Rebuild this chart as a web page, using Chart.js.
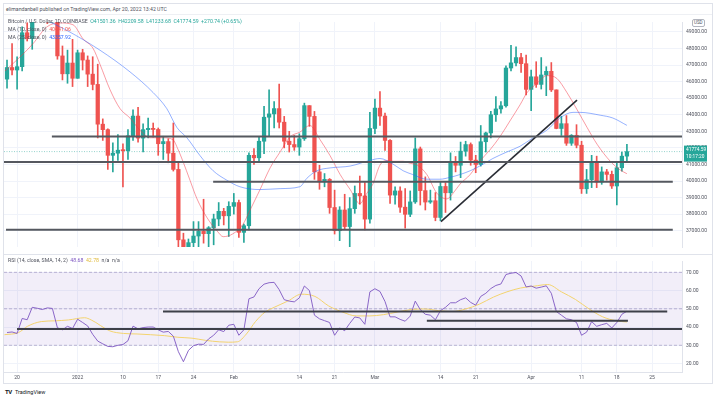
<!DOCTYPE html>
<html>
<head>
<meta charset="utf-8">
<script src="https://cdn.jsdelivr.net/npm/chart.js@4.4.0/dist/chart.umd.min.js"></script>
<style>
  body { margin: 0; width: 716px; height: 399px; background: #fff; position: relative; overflow: hidden;
         font-family: Roboto, "DejaVu Sans", sans-serif; color: #50535e; }
  canvas { position: absolute; }
  .t { position: absolute; white-space: nowrap; font-size: 5.2px; line-height: 6px; }
  .ln { position: absolute; background: #e0e3eb; }
</style>
</head>
<body>
<div style="position:absolute;left:3px;top:3px;width:708px;height:379px;border:1px solid #dfe2ea;"></div>
<canvas id="main" width="708" height="239" style="left:4px;top:15px"></canvas>
<canvas id="rsi" width="708" height="129" style="left:4px;top:254px"></canvas>
<div class="ln" style="left:4px;top:14px;width:708px;height:1px;background:#eef0f4"></div>
<div class="ln" style="left:4px;top:254px;width:708px;height:1px;"></div>

<div class="t" style="left:6px;top:6px;">elimandanbell published on TradingView.com, Apr 20, 2022 13:42 UTC</div>
<div class="t" style="left:8px;top:18px;">Bitcoin / U.S. Dollar, 1D, COINBASE&nbsp;
  <span style="color:#26a69a">O41501.36&nbsp; H42209.58&nbsp; L41233.68&nbsp; C41774.59&nbsp; +270.74 (+0.65%)</span></div>
<div class="t" style="left:8px;top:26px;">MA (10, close, 0)&nbsp; <span style="color:#ef5350">40441.06</span></div>
<div class="t" style="left:8px;top:34px;">MA (25, close, 0)&nbsp; <span style="color:#2962ff">43357.92</span></div>
<div class="t" style="left:692px;top:19px;padding:0 1px;border:0.6px solid #b2b5be;border-radius:2px;background:#fff;font-size:4.5px;line-height:5.5px;">USD</div>
<div class="t" style="left:8px;top:257px;">RSI (14, close, SMA, 14, 2)&nbsp;
  <span style="color:#7e57c2">48.68</span>&nbsp; <span style="color:#e0b93a">42.78</span>&nbsp; n/a&nbsp; n/a</div>
<div class="t" style="left:5px;top:389px;font-size:6px;font-weight:bold;color:#131722;letter-spacing:-0.5px">TV</div>
<div class="t" style="left:15px;top:389px;font-size:5.5px;color:#131722">TradingView</div>

<script>
// daily candles, Dec 18 2021 .. Apr 20 2022 (index 0 = Dec 18)
const opens = [46150, 46850, 46700, 46900, 48950, 48600, 50800, 50400, 50800, 50700, 50700, 47550, 46470, 47120,
  46200, 47740, 47300, 46450, 45830, 43430, 43100, 41550, 41680, 41860, 41830, 42730, 43920, 42590, 43100, 43180,
  43110, 42250, 42380, 41680, 40700, 36450, 35050, 36280, 36680, 36960, 36820, 37180, 37710, 38170, 37900,
  38470, 38700, 36900, 37300, 41550, 41400, 42400, 43850, 44050, 44370, 43550, 42400, 42200, 42050, 42550, 44550,
  43900, 40550, 39950, 40100, 38400, 37000, 38250, 37250, 38330, 39250, 39100, 37700,
  43170, 44400, 43920, 42450, 39150, 39400, 38420, 37990, 38740, 41940, 39420, 38730, 38810, 37800, 39670, 39290,
  41140, 40950, 41800, 42200, 41260, 41000, 42370, 42900, 44000, 44350, 44540, 46820, 47130, 47450, 47080,
  45530, 46290, 45830, 46400, 46620, 45500, 43170, 43460, 42280, 42760, 42160, 39530, 40080, 41150, 39940, 40550,
  40400, 39700, 40800, 41501.36];
const highs = [47300, 48300, 47500, 49300, 49550, 51400, 51800, 51150, 51250, 52000, 50700, 48150, 47900, 48550,
  47900, 47950, 47550, 47500, 47050, 43750, 43150, 42300, 42800, 42250, 43100, 44300, 44450, 43450, 43800, 43500,
  43200, 42700, 42550, 43500, 41100, 36850, 36500, 37550, 37550, 38900, 37250, 38000, 38700, 38350, 38750,
  39250, 38850, 37400, 41700, 41950, 42650, 44500, 45500, 44800, 45850, 43900, 43000, 42750, 42850, 44700, 44550,
  44200, 40950, 40450, 40150, 39450, 38450, 39200, 39000, 39700, 40300, 39900, 44150,
  44950, 45400, 44100, 42500, 39650, 39650, 39550, 39400, 42600, 42050, 40250, 39450, 39300, 39950, 39900, 41700,
  41480, 42350, 42400, 42300, 41550, 43350, 42950, 44200, 45100, 44800, 46950, 48190, 48100, 47700, 47600,
  46700, 47200, 47450, 46900, 47150, 45500, 43900, 43950, 42800, 43400, 42400, 40700, 41550, 41500, 40850,
  40700, 40600, 41100, 41750, 42209.58];
const lows = [45600, 46400, 45550, 46650, 48450, 47950, 50400, 50200, 49500, 50450, 47350, 46100, 45900, 45700,
  46200, 46700, 45700, 45500, 42600, 42450, 40700, 40550, 41250, 39650, 41300, 42450, 42350, 41750, 42600, 42650,
  41550, 41300, 41100, 40600, 35500, 34000, 34650, 32950, 35700, 36250, 35500, 36150, 37300, 37350, 36650,
  38000, 36600, 36300, 37050, 41000, 41150, 41650, 42700, 43200, 43200, 42000, 41750, 41850, 41550, 42450, 43300,
  40100, 39500, 39650, 38050, 36800, 36400, 37100, 34300, 38050, 38600, 37050, 37450,
  42850, 43350, 41850, 38650, 38600, 38100, 37150, 37850, 38650, 38550, 38250, 38650, 37600, 37600, 38100, 38850,
  40550, 40200, 41500, 40950, 40500, 40900, 41750, 42600, 43600, 44100, 44450, 46650, 46950, 46550, 45200,
  44250, 45650, 45550, 45150, 45400, 43150, 42750, 42150, 42150, 42000, 39250, 39250, 39600, 39600, 39800,
  40050, 39550, 38550, 40600, 41233.68];
const closes = [46850, 46700, 46900, 48950, 48600, 50800, 50400, 50800, 50700, 50700, 47550, 46470, 47120, 46200,
  47740, 47300, 46450, 45830, 43430, 43100, 41550, 41680, 41860, 41830, 42730, 43920, 42590, 43100, 43180, 43110,
  42250, 42380, 41680, 40700, 36450, 35050, 36280, 36680, 36960, 36820, 37180, 37710, 38170, 37900, 38470,
  38700, 36900, 37300, 41550, 41400, 42400, 43850, 44050, 44370, 43550, 42400, 42200, 42050, 42550, 44550, 43900,
  40550, 39950, 40100, 38400, 37000, 38250, 37250, 38330, 39250, 39100, 37700, 43170,
  44400, 43920, 42450, 39150, 39400, 38420, 37990, 38740, 41940, 39420, 38730, 38810, 37800, 39670, 39290, 41140,
  40950, 41800, 42200, 41260, 41000, 42370, 42900, 44000, 44350, 44540, 46820, 47130, 47450, 47080, 45530,
  46290, 45830, 46400, 46620, 45500, 43170, 43460, 42280, 42760, 42160, 39530, 40080, 41150, 39940, 40550,
  40400, 39700, 40800, 41500, 41774.59];

// moving averages (day index, price)
const ma10Days = [-0.4, 3.57, 5.16, 7.94, 10.52, 13.1, 15.08, 17.06, 18.45, 20.44, 22.42, 24.4, 26.4, 28.4, 30.95,
  32.9, 33.9, 34.9, 36.3, 37.7, 39.7, 41.7, 42.9, 44.8, 46.8, 48.2, 50.2, 52.2, 54.2, 56.2, 58.1, 60.1, 62.1, 64.1,
  66.1, 68.1, 70.0, 71.4, 72.6, 74.0, 75.4, 76.6, 78.6, 80.0, 81.4, 83.3, 85.3, 87.3, 88.5, 89.9, 91.9, 93.8, 95.8,
  97.8, 99.8, 101.8, 103.2, 105.2, 107.1, 109.1, 111.1, 113.1, 115.1, 117.1, 119.7, 121.6, 123];
const ma10Values = [46640, 47780, 48290, 49310, 49540, 49430, 48580, 48010, 47040, 45510, 44370, 43800, 43060, 42610,
  42610, 42500, 41930, 41190, 40050, 38920, 37780, 36980, 36640, 36810, 37380, 38230, 39480, 40790, 41760, 42670,
  42950, 43350, 42500, 41530, 40390, 39480, 38630, 39260, 39820, 40960, 41240, 41190, 41190, 41070, 40960, 40390,
  39260, 38920, 39260, 39820, 40390, 41190, 41870, 42670, 43630, 44600, 45340, 45900, 46360, 46190, 45340, 44310,
  43230, 42210, 41190, 40680, 40441];
const ma25Days = [5.75, 11.9, 18.45, 24.4, 29.0, 31.7, 33.7, 35.7, 38.3, 40.9, 43.6, 46.2, 50.2, 54.2, 58.1, 59.5,
  61.5, 64.1, 68.1, 72.0, 74.0, 76.6, 78.6, 80.5, 83.3, 85.9, 87.9, 89.9, 91.9, 93.8, 96.4, 99.2, 101.8, 104.4,
  107.1, 109.7, 112.3, 113.7, 117.7, 120.2, 123];
const ma25Values = [49995, 49086, 47893, 46586, 45336, 44370, 43233, 42608, 41528, 40619, 40051, 39654, 39483, 39540,
  39654, 40165, 40619, 40790, 40903, 41244, 41358, 41017, 40619, 40392, 40108, 40108, 40222, 40392, 40619, 40903,
  41358, 41756, 42097, 42608, 43063, 43802, 44143, 44143, 43972, 43802, 43358];

// RSI (14), one value per candle, and its SMA read at sample days
const rsiValues = [37.0, 37.3, 36.5, 44.7, 44.0, 50.8, 50.3, 49.6, 50.5, 50.2, 39.6, 38.5, 40.4, 39.2,
  44.3, 42.5, 40.6, 36.0, 32.3, 30.8, 29.4, 29.2, 30.0, 30.4, 32.5, 40.5, 39.0, 39.7, 40.0, 40.0,
  38.5, 37.2, 37.6, 35.0, 26.5, 21.0, 27.2, 29.8, 30.6, 30.5, 33.5, 35.5, 38.5, 37.5, 41.0,
  41.5, 35.5, 38.5, 55.5, 56.5, 61.0, 63.5, 64.3, 64.5, 60.5, 55.0, 54.2, 53.8, 56.0, 62.5, 60.0,
  46.5, 44.5, 43.5, 42.5, 35.5, 39.5, 38.0, 42.0, 45.5, 45.0, 41.5, 59.3,
  61.0, 59.5, 54.0, 45.6, 45.6, 44.2, 43.2, 46.0, 54.2, 49.5, 47.0, 46.5, 44.0, 49.0, 50.8, 53.3,
  53.3, 55.0, 56.0, 53.5, 52.0, 56.8, 58.5, 61.1, 62.8, 63.6, 68.8, 69.5, 69.9, 68.0, 62.0,
  62.5, 61.3, 61.9, 62.6, 58.5, 48.5, 46.5, 44.5, 44.0, 42.5, 35.5, 37.2, 43.0, 40.4, 41.3,
  42.0, 39.5, 42.5, 47.0, 48.68];
const rsiMaDays = [-0.5, 2.3, 4.05, 6.8, 9.5, 12.2, 15.4, 16.7, 20.4, 23.1, 25.8, 28.5, 31.2, 33.9, 36.7, 39.4,
  42.1, 43.9, 45.7, 47.5, 49.3, 51.2, 53.0, 55.7, 58.4, 61.1, 63.8, 66.6, 69.3, 72.0, 74.7, 77.4, 80.2, 82.9,
  85.6, 88.3, 91.0, 93.7, 96.5, 99.2, 101.9, 104.6, 107.3, 110.0, 112.8, 115.5, 118.2, 120.9, 123];
const rsiMaValues = [35.8, 37.0, 40.4, 43.0, 43.4, 43.9, 45.1, 43.9, 37.9, 36.5, 36.2, 35.8, 35.3, 34.4, 33.9, 32.7,
  31.9, 31.7, 31.9, 36.2, 43.0, 48.2, 50.8, 54.2, 58.0, 56.8, 51.6, 48.2, 46.1, 46.1, 46.8, 48.2, 49.6, 49.9,
  49.0, 48.5, 49.9, 52.5, 56.4, 59.3, 61.4, 62.4, 63.3, 59.3, 55.1, 49.9, 45.6, 43.4, 42.78];

// drawn support / resistance lines
const levelPrices = [42680, 41150, 39950, 37060];
const levelFrom = [8.9, -0.6, 40.9, -0.2];
const levelTo = [133.93, 133.93, 132.1, 132.1];
const trendFrom = [86.1, 37550];
const trendTo = [113.1, 44880];
const rsiLevels = [48.5, 43.5, 38.9];
const rsiLevelFrom = [30.95, 83.3, 1.98];
const rsiLevelTo = [131.0, 123.2, 133.93];

// axes
const tickDays = [2, 14, 23, 30, 37, 45, 58, 65, 73, 86, 93, 104, 114, 121, 128];
const tickLabels = ['20', '2022', '10', '17', '24', 'Feb', '14', '21', 'Mar', '14', '21', 'Apr', '11', '18', '25'];
const priceTicks = [37000, 38000, 39000, 40000, 41000, 42000, 43000, 44000, 45000, 46000, 47000, 48000, 49000];
const rsiTicks = [20, 30, 40, 50, 60, 70];
const rsiBands = [70, 50, 30];

const UP = '#26a69a', DOWN = '#ef5350';
const dayMin = -0.6, dayMax = 133.93;
const lastClose = closes[closes.length - 1];

Chart.defaults.font.family = 'Roboto';

const pairs = (xs, ys) => xs.map((x, i) => ({ x: x, y: ys[i] }));
const seg = (x1, y1, x2, y2) => [{ x: x1, y: y1 }, { x: x2, y: y2 }];
const flat = (data, color, width, order, extra) => Object.assign({
  type: 'line', data: data, borderColor: color, borderWidth: width, pointRadius: 0, fill: false, order: order
}, extra || {});

const candleColors = closes.map((c, i) => c >= opens[i] ? UP : DOWN);

const lastPriceBox = {
  id: 'lastPriceBox',
  afterDraw(chart) {
    const { ctx, chartArea, scales } = chart;
    const y = scales.y.getPixelForValue(lastClose);
    ctx.save();
    ctx.fillStyle = UP;
    ctx.fillRect(chartArea.right + 2, y - 6, 23, 16);
    ctx.fillStyle = '#fff';
    ctx.font = '4.8px Roboto';
    ctx.textBaseline = 'middle';
    ctx.fillText(lastClose.toFixed(2), chartArea.right + 4, y - 1.5);
    ctx.fillText('10:17:20', chartArea.right + 4, y + 5.5);
    ctx.restore();
  }
};

function xScale(showLabels) {
  return {
    type: 'linear', min: dayMin, max: dayMax, offset: false,
    afterBuildTicks: s => { s.ticks = tickDays.map(v => ({ value: v })); },
    afterFit: s => { s.height = showLabels ? 11 : 0; },
    ticks: {
      display: showLabels, autoSkip: false, maxRotation: 0, padding: 3,
      font: { size: 5 }, color: '#50535e',
      callback: (v, i) => tickLabels[i]
    },
    grid: { color: '#f0f3fa', drawTicks: false, offset: false },
    border: { display: showLabels, color: '#e0e3eb' }
  };
}

new Chart(document.getElementById('main'), {
  type: 'line',
  data: {
    datasets: [
      { type: 'bar', data: highs.map((h, i) => ({ x: i, y: [lows[i], h] })), backgroundColor: candleColors,
        barThickness: 1, grouped: false, order: 6 },
      { type: 'bar', data: closes.map((c, i) => ({ x: i, y: [opens[i], c] })), backgroundColor: candleColors,
        barThickness: 3.6, grouped: false, minBarLength: 1, order: 5 },
      flat(pairs(ma25Days, ma25Values), 'rgba(41,98,255,0.55)', 0.9, 3, { cubicInterpolationMode: 'monotone' }),
      flat(pairs(ma10Days, ma10Values), 'rgba(242,54,69,0.55)', 0.9, 3, { cubicInterpolationMode: 'monotone' }),
      flat(seg(dayMin, lastClose, dayMax, lastClose), 'rgba(38,166,154,0.7)', 0.7, 7, { borderDash: [1, 1.5] }),
      ...levelPrices.map((p, i) => flat(seg(levelFrom[i], p, levelTo[i], p), '#55585f', 2, 1)),
      flat(seg(trendFrom[0], trendFrom[1], trendTo[0], trendTo[1]), '#2a2d35', 1.6, 1)
    ]
  },
  options: {
    responsive: false, animation: false, events: [],
    layout: { padding: 0 },
    plugins: { legend: { display: false }, tooltip: { enabled: false } },
    scales: {
      x: xScale(false),
      y: {
        type: 'linear', position: 'right', min: 36017, max: 49597,
        afterBuildTicks: s => { s.ticks = priceTicks.map(v => ({ value: v })); },
        afterFit: s => { s.width = 30; },
        ticks: { callback: v => v.toFixed(2), font: { size: 5 }, color: '#50535e', padding: 4 },
        grid: { color: '#f0f3fa', drawTicks: false },
        border: { color: '#e0e3eb' }
      }
    }
  },
  plugins: [lastPriceBox]
});

new Chart(document.getElementById('rsi'), {
  type: 'line',
  data: {
    datasets: [
      flat(seg(dayMin, 70, dayMax, 70), 'rgba(0,0,0,0)', 0, 9,
        { fill: { value: 30 }, backgroundColor: 'rgba(126,87,194,0.1)' }),
      ...rsiBands.map(v => flat(seg(dayMin, v, dayMax, v), 'rgba(120,105,160,0.55)', 0.8, 8, { borderDash: [3, 2] })),
      flat(pairs(rsiMaDays, rsiMaValues), '#f3d36e', 1, 4, { cubicInterpolationMode: 'monotone' }),
      flat(rsiValues.map((v, i) => ({ x: i, y: v })), '#7e57c2', 0.9, 3),
      ...rsiLevels.map((v, i) => flat(seg(rsiLevelFrom[i], v, rsiLevelTo[i], v), '#3e4049', 2, 1))
    ]
  },
  options: {
    responsive: false, animation: false, events: [],
    layout: { padding: 0 },
    plugins: { legend: { display: false }, tooltip: { enabled: false } },
    scales: {
      x: xScale(true),
      y: {
        type: 'linear', position: 'right', min: 15.36, max: 76.2,
        afterBuildTicks: s => { s.ticks = rsiTicks.map(v => ({ value: v })); },
        afterFit: s => { s.width = 30; },
        ticks: { callback: v => v.toFixed(2), font: { size: 5 }, color: '#50535e', padding: 4 },
        grid: { color: '#f0f3fa', drawTicks: false },
        border: { color: '#e0e3eb' }
      }
    }
  }
});
</script>
</body>
</html>
